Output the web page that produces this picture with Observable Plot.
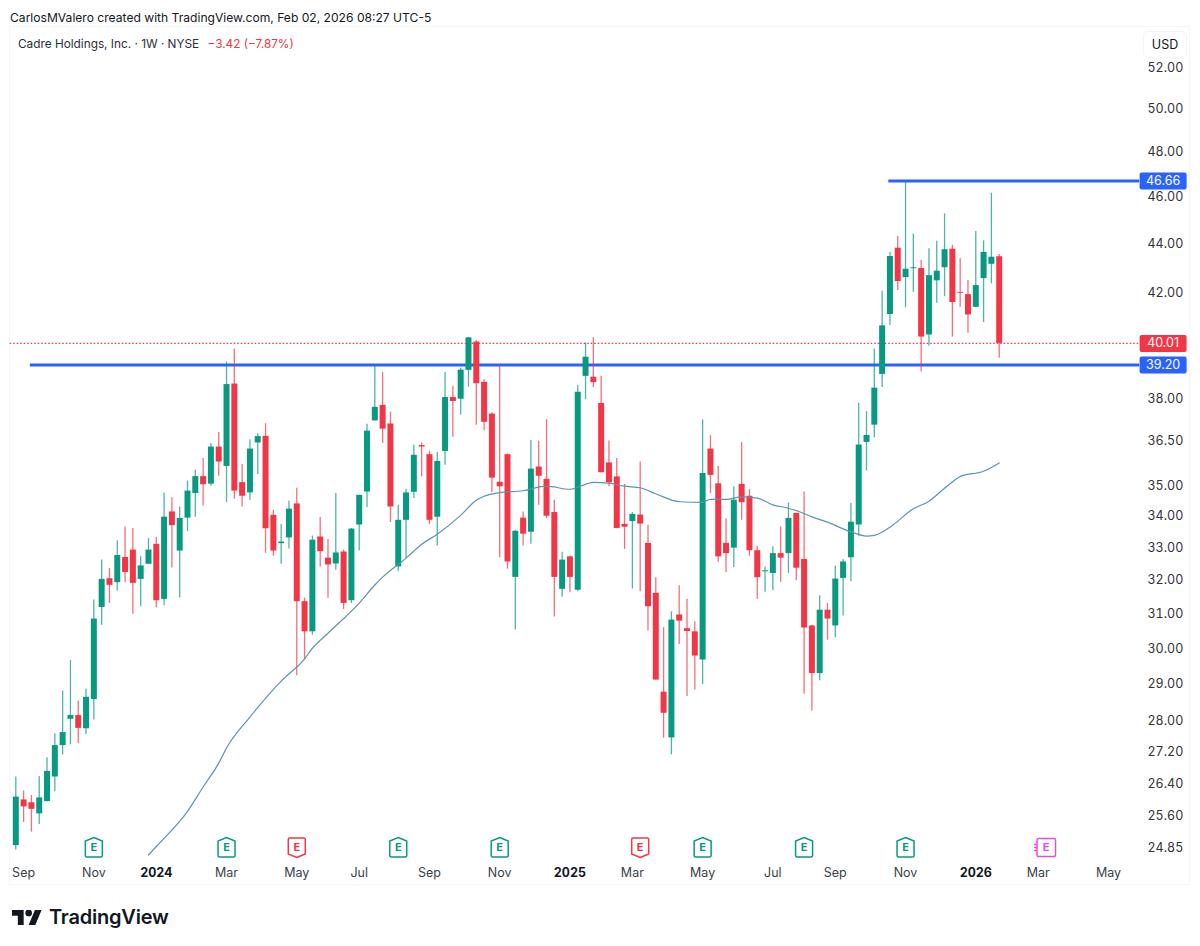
<!DOCTYPE html>
<html><head><meta charset="utf-8">
<script src="https://cdn.jsdelivr.net/npm/d3@7"></script>
<script src="https://cdn.jsdelivr.net/npm/@observablehq/plot@0.6"></script>
<style>
html,body{margin:0;padding:0;background:#fff;font-family:Inter,"Noto Sans",sans-serif;color:#131722}
#page{position:relative;width:1200px;height:946px;overflow:hidden}
#credit{position:absolute;left:10px;top:10px;font-size:12.1px;line-height:16px;white-space:nowrap}
#pane{position:absolute;left:9px;top:26px;width:1181px;height:859px;border:1px solid #f5f6f8;box-sizing:border-box}
#chart{position:absolute;left:0;top:26px}
#legend{position:absolute;left:18px;top:37px;font-size:11.8px;line-height:15px;white-space:nowrap;color:#2a2e39}
#legend span{color:#f23645;margin-left:5px}
#usd{position:absolute;left:1143px;top:31px;width:42px;height:25px;border:1px solid #f3f4f7;border-radius:5px;font-size:12.5px;line-height:25px;text-align:center}
#logo{position:absolute;left:12px;top:908px;display:flex;align-items:center;gap:7px;font-size:20px;font-weight:600;line-height:18px;color:#131722;letter-spacing:-.2px}
</style></head>
<body>
<div id="page">
<div id="pane"></div>
<div id="credit">CarlosMValero created with TradingView.com, Feb 02, 2026 08:27 UTC-5</div>
<div id="chart"></div>
<div id="legend">Cadre Holdings, Inc. · 1W · NYSE <span>−3.42 (−7.87%)</span></div>
<div id="usd">USD</div>
<div id="logo"><svg width="30" height="15" viewBox="0 4 36 18"><path fill="#131722" d="M14 22H7V11H0V4h14v18zM28 22h-8l7.5-18h8L28 22z"/><circle fill="#131722" cx="20" cy="7.5" r="4"/></svg><span>TradingView</span></div>
</div>
<script>
const firstWeek = "2023-08-28";
const open = [24.87,25.97,25.90,25.63,25.93,26.54,27.34,28.03,28.13,27.78,
28.56,31.16,32.02,31.90,32.67,32.90,32.00,32.46,33.08,31.40,
34.11,32.87,33.91,34.71,35.27,35.02,36.27,35.61,38.50,35.07,
34.73,36.41,36.64,34.00,33.10,33.28,34.37,31.33,30.45,33.31,
32.65,32.47,32.84,31.36,33.69,34.76,37.18,37.73,37.07,32.38,
33.84,34.75,36.32,36.01,33.94,36.12,38.01,37.95,39.00,40.06,
38.56,37.42,35.08,36.01,32.06,33.91,33.46,35.59,35.18,34.09,
31.70,32.69,31.67,38.78,38.75,37.80,35.73,35.26,33.71,33.80,
34.01,33.11,31.58,28.76,27.54,30.94,30.54,30.45,29.65,36.20,
35.03,33.11,32.96,35.01,34.62,32.88,32.23,32.18,32.79,32.79,
34.06,32.61,30.62,29.27,31.08,30.62,32.03,32.66,33.69,36.43,
37.03,38.85,41.12,43.78,42.58,42.94,42.95,40.33,42.45,42.98,
43.74,41.98,41.90,41.40,42.54,43.12,43.43];
const high = [26.54,26.19,26.08,26.55,27.03,27.65,28.79,29.63,28.52,28.84,
31.38,32.59,32.33,33.19,33.63,33.58,32.69,33.26,33.29,34.73,
34.57,34.27,35.12,35.48,35.88,36.39,36.77,39.31,39.80,35.68,
36.52,36.73,37.08,34.16,33.71,34.46,34.88,31.44,33.34,33.93,
33.23,34.71,32.90,33.58,34.65,37.06,39.18,38.92,37.49,34.33,
34.85,36.33,36.41,36.13,36.08,38.92,38.42,39.08,40.24,40.12,
38.66,37.47,39.18,36.03,33.52,34.11,36.50,36.47,37.22,34.49,
32.83,32.71,38.45,40.03,40.22,38.78,36.48,35.88,35.01,34.09,
35.76,33.68,32.05,30.57,31.03,31.81,31.40,30.74,37.22,36.66,
35.61,33.89,34.93,36.42,34.84,33.02,32.38,33.00,33.63,34.40,
34.06,34.76,30.64,31.50,31.28,32.40,32.61,34.38,37.81,37.50,
39.80,42.03,43.62,44.27,46.66,44.38,43.28,43.76,44.07,45.23,
43.91,43.35,42.46,44.48,44.09,46.12,43.52];
const low = [24.77,25.42,25.19,25.37,25.92,26.17,27.10,27.36,27.39,27.62,
28.01,30.64,31.28,31.65,31.90,30.96,31.18,32.46,31.15,31.21,
32.35,31.44,33.48,33.94,34.30,34.95,35.28,34.41,34.52,34.27,
34.49,35.34,32.80,32.71,32.46,32.93,29.21,29.67,30.35,32.38,
31.43,32.28,31.10,31.28,32.87,34.25,37.18,36.39,33.77,32.23,
32.64,34.55,35.26,33.70,33.03,35.65,36.61,37.39,38.39,37.03,
36.83,34.74,32.66,32.31,30.50,33.03,33.08,34.33,33.89,30.88,
31.46,31.60,31.63,37.94,38.37,35.40,34.93,33.57,32.92,31.71,
31.63,30.47,29.09,27.53,27.10,30.09,28.64,28.82,28.97,34.71,
32.52,32.20,32.36,33.84,32.71,31.40,31.61,31.66,31.91,32.18,
31.96,28.70,28.25,29.07,30.21,30.28,30.91,31.93,33.33,35.46,
36.59,38.37,40.69,42.06,41.38,41.99,38.94,39.90,41.56,41.83,
40.25,41.40,40.40,41.39,40.81,42.33,39.45];
const close = [26.04,25.80,25.74,26.02,26.68,27.34,27.68,28.13,27.79,28.62,
30.82,32.00,31.82,32.73,32.21,31.88,32.41,32.90,31.36,33.94,
33.67,33.90,34.79,35.27,35.00,36.27,35.76,38.48,34.79,34.62,
36.20,36.63,33.57,32.87,33.15,34.20,31.33,30.45,33.21,32.85,
32.44,32.81,31.28,33.56,34.65,36.82,37.66,36.89,34.27,33.84,
34.73,35.99,36.27,33.84,35.78,38.01,37.87,39.01,40.22,38.51,
37.13,35.22,34.93,32.53,33.49,33.40,35.52,35.28,33.97,32.06,
32.59,32.06,38.20,39.49,38.55,35.40,35.06,33.58,33.62,34.03,
33.72,31.18,29.09,28.19,30.79,30.76,30.46,29.76,35.37,35.31,
32.69,32.79,34.49,34.41,32.88,32.05,32.26,32.79,32.65,33.90,
32.34,30.56,29.27,31.08,30.82,32.01,32.53,33.78,36.34,36.67,
38.35,40.68,43.44,42.42,42.92,42.98,40.25,42.66,42.84,43.72,
41.59,41.95,41.10,42.26,43.61,43.41,40.01];
// moving average, read at the bars where its bends are visible
const maWeekIndex = [17,18,22,24,26,27,30,34,37,38,40,44,46,47,50,52,54,57,59,60,62,65,68,71,74,76,78,80,82,85,88,89,91,93,95,97,99,101,102,104,107,109,110,112,115,117,119,121,124,126];
const maValue = [24.65,24.85,25.69,26.29,26.89,27.28,28.09,29.06,29.68,29.98,30.41,31.29,31.83,32.07,32.65,33.08,33.40,34.00,34.49,34.62,34.74,34.80,34.95,34.85,35.08,35.05,34.95,34.90,34.70,34.44,34.42,34.52,34.52,34.60,34.56,34.34,34.23,34.06,33.95,33.78,33.47,33.34,33.36,33.62,34.21,34.46,34.88,35.27,35.45,35.73];
const priceTicks = [52,50,48,46,44,42,38,36.5,35,34,33,32,31,30,29,28,27.2,26.4,25.6,24.85];
const monthTicks = ["2023-09-04","2023-11-06","2024-03-04","2024-05-06","2024-07-01","2024-09-02","2024-11-04","2025-03-03","2025-05-05","2025-07-07","2025-09-01","2025-11-03","2026-03-02","2026-05-04"];
const yearTicks = ["2024-01-01","2025-01-06","2026-01-05"];
const earningsUp = ["2023-11-06","2024-03-04","2024-08-05","2024-11-04","2025-05-05","2025-08-04","2025-11-03"];
const earningsDown = ["2024-05-06","2025-03-10"];
const earningsNext = ["2026-03-09"];
const levelPrices = [39.20,46.66];
const levelStarts = ["2023-09-10","2025-10-19"];
const lastPrice = 40.01;
const lineEnd = "2026-06-01";
const tagDate = "2026-06-22";
const paneStart = "2023-08-23";

const GREEN="#089981", RED="#f23645", BLUE="#2962ff", PINK="#df4fe6", MA="#5b95ad", INK="#2a2e39";
const d = s => new Date(s+"T00:00:00Z");
const weekDate = i => d3.utcWeek.offset(d(firstWeek), i);
const bars = open.map((o,i)=>({date:new Date(d(firstWeek).getTime()+i*6048e5),open:o,high:high[i],low:low[i],close:close[i],dir:close[i]>=o?"up":"down"}));
const maRows = maWeekIndex.map((w,i)=>({date:new Date(d(firstWeek).getTime()+w*6048e5),value:maValue[i]}));
const levels = levelPrices.map((p,i)=>({price:p,x1:d(levelStarts[i]),x2:d(lineEnd)}));
const tags = [{price:46.66,fill:BLUE},{price:40.01,fill:RED},{price:39.20,fill:BLUE}].map(t=>({...t,date:d(tagDate)}));
const earnY = 24.85;

const tagBox = {draw(c){const w=23.5,h=8.5,r=2;c.moveTo(-w+r,-h);c.lineTo(w-r,-h);c.arcTo(w,-h,w,-h+r,r);c.lineTo(w,h-r);c.arcTo(w,h,w-r,h,r);c.lineTo(-w+r,h);c.arcTo(-w,h,-w,h-r,r);c.lineTo(-w,-h+r);c.arcTo(-w,-h,-w+r,-h,r);c.closePath();}};
const houseUp = {draw(c){c.moveTo(0,-10);c.lineTo(8.5,-6.5);c.lineTo(8.5,8);c.arcTo(8.5,9.5,7,9.5,1.5);c.lineTo(-7,9.5);c.arcTo(-8.5,9.5,-8.5,8,1.5);c.lineTo(-8.5,-6.5);c.closePath();}};
const houseDown = {draw(c){c.moveTo(0,10);c.lineTo(8.5,6.5);c.lineTo(8.5,-8);c.arcTo(8.5,-9.5,7,-9.5,1.5);c.lineTo(-7,-9.5);c.arcTo(-8.5,-9.5,-8.5,-8,1.5);c.lineTo(-8.5,6.5);c.closePath();}};
const squareNext = {draw(c){c.moveTo(-7.5,-9);c.lineTo(8,-9);c.arcTo(9.5,-9,9.5,-7.5,1.5);c.lineTo(9.5,7.5);c.arcTo(9.5,9,8,9,1.5);c.lineTo(-7.5,9);c.arcTo(-9,9,-9,7.5,1.5);c.lineTo(-9,-7.5);c.arcTo(-9,-9,-7.5,-9,1.5);c.closePath();c.moveTo(-12,-3);c.lineTo(-9,-3);c.moveTo(-12,0);c.lineTo(-9,0);c.moveTo(-12,3);c.lineTo(-9,3);}};

function earnMarks(dates,symbol,color){
  const rows = dates.map(s=>({date:d(s)}));
  return [
    Plot.dot(rows,{x:"date",y:()=>earnY,symbol,fill:"#fff",stroke:color,strokeWidth:1.5,r:9,dy:1}),
    Plot.text(rows,{x:"date",y:()=>earnY,text:()=>"E",fill:color,fontSize:11,fontWeight:700,dy:1})
  ];
}

const chart = Plot.plot({
  width:1200,height:860,marginLeft:0,marginTop:0,marginRight:57,marginBottom:21,
  style:{fontFamily:"Inter, 'Noto Sans', sans-serif",fontSize:"12.5px",background:"transparent",color:INK},
  x:{type:"utc",domain:[d(firstWeek),weekDate(126)],range:[15.3,998.7]},
  y:{type:"log",domain:[24.85,52],range:[820,40]},
  color:{domain:["up","down"],range:[GREEN,RED]},
  marks:[
    Plot.ruleY([lastPrice],{x1:d(paneStart),x2:d(lineEnd),stroke:RED,strokeWidth:1.2,strokeDasharray:"1.5 2"}),
    Plot.ruleY(levels,{y:"price",x1:"x1",x2:"x2",stroke:BLUE,strokeWidth:3}),
    Plot.ruleX(bars,{x:"date",y1:"low",y2:"high",stroke:"dir",strokeWidth:1.3,strokeOpacity:.72}),
    Plot.ruleX(bars,{x:"date",y1:"open",y2:"close",stroke:"dir",strokeWidth:6,strokeLinecap:"butt"}),
    Plot.line(maRows,{x:"date",y:"value",stroke:MA,strokeWidth:1.2,curve:"monotone-x"}),
    ...earnMarks(earningsUp,houseUp,GREEN),
    ...earnMarks(earningsDown,houseDown,RED),
    ...earnMarks(earningsNext,squareNext,PINK),
    Plot.axisY({anchor:"right",ticks:priceTicks,tickSize:0,tickPadding:4,label:null,dy:1,tickFormat:v=>v.toFixed(2),fill:"#333"}),
    Plot.axisX({anchor:"bottom",ticks:monthTicks.map(d),tickSize:0,tickPadding:3,label:null,tickFormat:v=>d3.utcFormat("%b")(v),fill:"#3b3f49"}),
    Plot.axisX({anchor:"bottom",ticks:yearTicks.map(d),tickSize:0,tickPadding:3,label:null,tickFormat:v=>d3.utcFormat("%Y")(v),fontWeight:700,fill:"#131722"}),
    Plot.dot(tags,{x:"date",y:"price",symbol:tagBox,fill:"fill",stroke:"none",r:9}),
    Plot.text(tags,{x:"date",y:"price",text:t=>t.price.toFixed(2),fill:"#fff",fontSize:12.5})
  ]
});
document.getElementById("chart").appendChild(chart);
</script>
</body></html>
